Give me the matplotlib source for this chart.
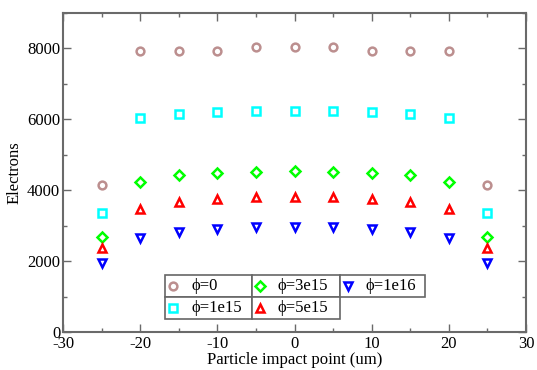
import matplotlib
matplotlib.use("Agg")
import matplotlib.pyplot as plt
from matplotlib.ticker import MultipleLocator
from matplotlib.lines import Line2D

plt.rcParams['font.family'] = ['Liberation Serif', 'DejaVu Serif']
plt.rcParams['axes.unicode_minus'] = False

# Impact positions (um)
impact = [-25, -20, -15, -10, -5, 0, 5, 10, 15, 20, 25]

# Collected electrons for each fluence
phi_0    = [4150, 7920, 7920, 7920, 8020, 8020, 8020, 7920, 7920, 7920, 4150]
phi_1e15 = [3350, 6030, 6140, 6200, 6230, 6230, 6230, 6200, 6140, 6030, 3350]
phi_3e15 = [2680, 4230, 4410, 4490, 4520, 4540, 4520, 4490, 4410, 4230, 2680]
phi_5e15 = [2370, 3470, 3660, 3740, 3800, 3800, 3800, 3740, 3660, 3470, 2370]
phi_1e16 = [1930, 2640, 2820, 2890, 2950, 2950, 2950, 2890, 2820, 2640, 1930]

labels = ["ϕ=0", "ϕ=1e15", "ϕ=3e15", "ϕ=5e15", "ϕ=1e16"]
series = [phi_0, phi_1e15, phi_3e15, phi_5e15, phi_1e16]
colors = ["#BC8F8F", "#00FFFF", "#00FF00", "#FF0000", "#0000FF"]
markers = ["o", "s", "D", "^", "v"]
sizes = [5.6, 5.2, 4.6, 6.0, 6.0]
edge_w = 1.8

fig = plt.figure(figsize=(5.37, 3.70), dpi=100)
ax = fig.add_axes([63 / 537, 1 - 332 / 370, (526 - 63) / 537, (332 - 12.5) / 370])

for y, c, m, s in zip(series, colors, markers, sizes):
    ax.plot(impact, y, linestyle="none", marker=m, markersize=s,
            markerfacecolor="white", markeredgecolor=c, markeredgewidth=edge_w)

ax.set_xlim(-30, 30)
ax.set_ylim(0, 9000)
ax.xaxis.set_major_locator(MultipleLocator(10))
ax.xaxis.set_minor_locator(MultipleLocator(5))
ax.yaxis.set_major_locator(MultipleLocator(2000))
ax.yaxis.set_minor_locator(MultipleLocator(1000))

frame = "#6a6a6a"
for sp in ax.spines.values():
    sp.set_color(frame)
    sp.set_linewidth(1.5)
ax.tick_params(which="both", direction="in", top=True, right=True,
               color=frame, width=1.0, labelsize=12, pad=2)
ax.tick_params(axis="x", which="both", pad=3)
ax.tick_params(which="major", length=6)
ax.tick_params(which="minor", length=3)

ax.set_xlabel("Particle impact point (um)", fontsize=12, labelpad=0)
ax.set_ylabel("Electrons", fontsize=12, labelpad=3)

# Boxed legend laid out as a small table
def px(x, y):
    return ((x - 63) / (526 - 63), (332 - y) / (332 - 12.5))

cells = [
    (165, 275, 252, 297, 0),
    (165, 297, 252, 319, 1),
    (252, 275, 340, 297, 2),
    (252, 297, 340, 319, 3),
    (340, 275, 425, 297, 4),
]
for x0, y0, x1, y1, i in cells:
    ax0, ay0 = px(x0, y1)
    ax1, ay1 = px(x1, y0)
    ax.add_patch(plt.Rectangle((ax0, ay0), ax1 - ax0, ay1 - ay0,
                               transform=ax.transAxes, facecolor="white",
                               edgecolor="#666666", linewidth=1.2, zorder=5,
                               clip_on=False))
    mx, my = px(x0 + 8, (y0 + y1) / 2)
    ax.add_line(Line2D([mx], [my], transform=ax.transAxes, marker=markers[i],
                       markersize=sizes[i], markerfacecolor="white",
                       markeredgecolor=colors[i], markeredgewidth=edge_w,
                       linestyle="none", zorder=6))
    tx, ty = px(x0 + 26, (y0 + y1) / 2)
    ax.text(tx, ty, labels[i], transform=ax.transAxes, fontsize=12,
            va="center", ha="left", zorder=6)

fig.savefig("out.png", dpi=100)
